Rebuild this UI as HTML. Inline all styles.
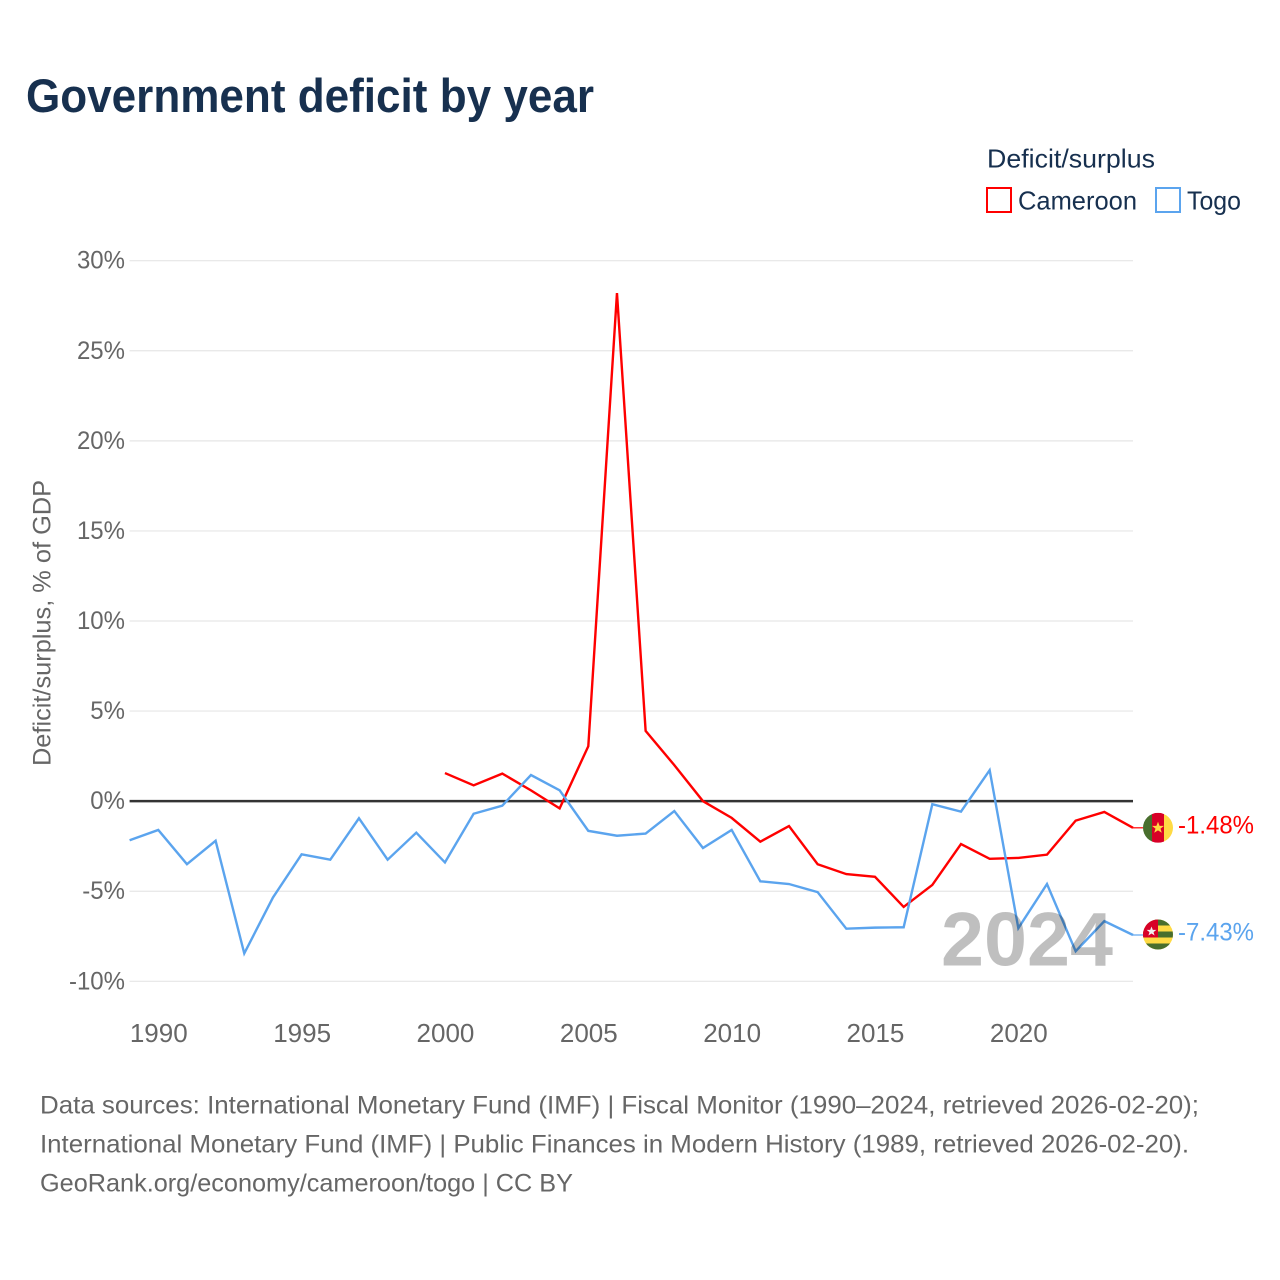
<!DOCTYPE html>
<html lang="en">
<head>
<meta charset="utf-8">
<title>Government deficit by year</title>
<style>
html,body{margin:0;padding:0;background:#fff;width:1280px;height:1280px;overflow:hidden}
svg{display:block;font-family:"Liberation Sans",sans-serif}
</style>
</head>
<body>
<svg id="chart" width="1280" height="1280" viewBox="0 0 1280 1280" xmlns="http://www.w3.org/2000/svg">
  <defs>
    <clipPath id="flag-clip"><circle cx="0" cy="0" r="15"/></clipPath>
  </defs>
  <rect width="1280" height="1280" fill="#fff"/>
  <text x="26" y="112" font-size="47" font-weight="700" fill="#17304f" textLength="568" lengthAdjust="spacingAndGlyphs">Government deficit by year</text>

  <g>
    <text x="987" y="167.5" font-size="26" fill="#17304f" textLength="168" lengthAdjust="spacingAndGlyphs">Deficit/surplus</text>
    <rect x="987" y="188" width="24" height="24" fill="none" stroke="#ff0000" stroke-width="2"/>
    <text x="1018" y="209.5" font-size="26" fill="#17304f" textLength="119" lengthAdjust="spacingAndGlyphs">Cameroon</text>
    <rect x="1156" y="188" width="24" height="24" fill="none" stroke="#5ba4ee" stroke-width="2"/>
    <text x="1187" y="209.5" font-size="26" fill="#17304f" textLength="54" lengthAdjust="spacingAndGlyphs">Togo</text>
  </g>

  <text transform="translate(50.5,766) rotate(-90)" x="0" y="0" font-size="25" fill="#666" textLength="286" lengthAdjust="spacingAndGlyphs">Deficit/surplus, % of GDP</text>

  <g id="grid"></g>
  <g id="y-ticks"></g>
  <g id="x-ticks"></g>
  <g id="series"></g>

  <g id="flag-cameroon">
    <g clip-path="url(#flag-clip)">
      <rect x="-15" y="-15" width="9" height="30" fill="#496e2d"/>
      <rect x="-6" y="-15" width="12" height="30" fill="#d80027"/>
      <rect x="6" y="-15" width="9" height="30" fill="#ffda44"/>
      <polygon points="0,-6 1.6,-1.9 6,-1.9 2.5,0.8 3.8,5 0,2.6 -3.8,5 -2.5,0.8 -6,-1.9 -1.6,-1.9" fill="#ffda44"/>
    </g>
  </g>
  <g id="flag-togo">
    <g clip-path="url(#flag-clip)">
      <rect x="-15" y="-15" width="30" height="30" fill="#ffda44"/>
      <rect x="-15" y="-15" width="30" height="6" fill="#496e2d"/>
      <rect x="-15" y="-3" width="30" height="6" fill="#496e2d"/>
      <rect x="-15" y="9" width="30" height="6" fill="#496e2d"/>
      <rect x="-15" y="-15" width="15" height="18" fill="#d80027"/>
      <polygon points="-6.5,-8 -5.2,-4.6 -1.6,-4.6 -4.5,-2.4 -3.4,1 -6.5,-1 -9.6,1 -8.5,-2.4 -11.4,-4.6 -7.8,-4.6" fill="#f0f0f0"/>
    </g>
  </g>
  <text id="value-cameroon" x="1178" font-size="25" fill="#ff0000" textLength="76" lengthAdjust="spacingAndGlyphs"></text>
  <text id="value-togo" x="1178" font-size="25" fill="#5ba4ee" textLength="76" lengthAdjust="spacingAndGlyphs"></text>

  <text x="941" y="965.5" font-size="76" font-weight="700" fill="#000" fill-opacity="0.25" textLength="172" lengthAdjust="spacingAndGlyphs">2024</text>

  <g font-size="25" fill="#666">
    <text x="40" y="1113.5" textLength="1159" lengthAdjust="spacingAndGlyphs">Data sources: International Monetary Fund (IMF) | Fiscal Monitor (1990–2024, retrieved 2026-02-20);</text>
    <text x="40" y="1152.5" textLength="1149" lengthAdjust="spacingAndGlyphs">International Monetary Fund (IMF) | Public Finances in Modern History (1989, retrieved 2026-02-20).</text>
    <text x="40" y="1191.5" textLength="533" lengthAdjust="spacingAndGlyphs">GeoRank.org/economy/cameroon/togo | CC BY</text>
  </g>
</svg>
<script>
const years = [1989,1990,1991,1992,1993,1994,1995,1996,1997,1998,1999,2000,2001,2002,2003,2004,2005,2006,2007,2008,2009,2010,2011,2012,2013,2014,2015,2016,2017,2018,2019,2020,2021,2022,2023,2024];
const togoValues = [-2.17,-1.6,-3.5,-2.2,-8.45,-5.35,-2.95,-3.25,-0.95,-3.25,-1.75,-3.4,-0.7,-0.25,1.45,0.6,-1.65,-1.92,-1.8,-0.55,-2.6,-1.6,-4.45,-4.6,-5.05,-7.08,-7.02,-7.0,-0.17,-0.58,1.72,-7.05,-4.6,-8.33,-6.66,-7.43];
const cameroonValues = [null,null,null,null,null,null,null,null,null,null,null,1.56,0.88,1.53,0.6,-0.4,3.05,28.2,3.9,2.0,0,-0.93,-2.25,-1.38,-3.5,-4.05,-4.2,-5.87,-4.65,-2.38,-3.2,-3.15,-2.97,-1.08,-0.6,-1.48];
const yTickValues = [-10,-5,0,5,10,15,20,25,30];
const xTickYears = [1990,1995,2000,2005,2010,2015,2020];

const SVG_NS = 'http://www.w3.org/2000/svg';
const plot = {left:129.6, right:1133, top:260.7, bottom:981.3, yMin:-10, yMax:30};
function xScale(year){
  return plot.left + (year - years[0]) / (years[years.length-1] - years[0]) * (plot.right - plot.left);
}
function yScale(v){
  return plot.bottom - (v - plot.yMin) / (plot.yMax - plot.yMin) * (plot.bottom - plot.top);
}
function make(tag, attrs, parent){
  const n = document.createElementNS(SVG_NS, tag);
  for (const k in attrs) n.setAttribute(k, attrs[k]);
  parent.appendChild(n);
  return n;
}
const gridG = document.getElementById('grid');
const yG = document.getElementById('y-ticks');
const xG = document.getElementById('x-ticks');
const seriesG = document.getElementById('series');

yTickValues.forEach(function(v){
  if (v !== 0) {
    const line = make('line', {x1:plot.left, x2:plot.right, y1:yScale(v), y2:yScale(v), stroke:'#e6e6e6', 'stroke-width':1.2}, gridG);
    
    
  }
  const label = make('text', {x:125, y:yScale(v)+8, 'font-size':25, fill:'#666', 'text-anchor':'end'}, yG);
  
  
  label.textContent = v + '%';
  label.setAttribute('textLength', label.getComputedTextLength() * 0.96);
  label.setAttribute('lengthAdjust', 'spacingAndGlyphs');
});

xTickYears.forEach(function(y){
  const label = make('text', {x:xScale(y)+0.5, y:1042, 'font-size':26, fill:'#666', 'text-anchor':'middle'}, xG);
  
  
  label.textContent = y;
});

const zeroLine = make('line', {x1:plot.left, x2:plot.right, y1:yScale(0), y2:yScale(0), stroke:'#333', 'stroke-width':2.5}, gridG);



function linePath(values){
  let d = '';
  values.forEach(function(v, i){
    if (v === null) return;
    d += (d ? 'L' : 'M') + xScale(years[i]).toFixed(2) + ' ' + yScale(v).toFixed(2);
  });
  return d;
}

const cameroonLine = make('path', {d:linePath(cameroonValues), fill:'none', stroke:'#ff0000', 'stroke-width':2.4, 'stroke-linejoin':'miter'}, seriesG);



const togoLine = make('path', {d:linePath(togoValues), fill:'none', stroke:'#5ba4ee', 'stroke-width':2.4, 'stroke-linejoin':'miter'}, seriesG);



const lastCameroon = cameroonValues[cameroonValues.length-1];
const lastTogo = togoValues[togoValues.length-1];

const stubCameroon = make('line', {x1:plot.right, x2:plot.right+10, y1:yScale(lastCameroon), y2:yScale(lastCameroon), stroke:'#ff0000', 'stroke-width':1.2}, seriesG);



const stubTogo = make('line', {x1:plot.right, x2:plot.right+10, y1:yScale(lastTogo), y2:yScale(lastTogo), stroke:'#5ba4ee', 'stroke-width':1.2}, seriesG);



document.getElementById('flag-cameroon').setAttribute('transform', 'translate(1158,' + yScale(lastCameroon) + ')');
document.getElementById('flag-togo').setAttribute('transform', 'translate(1158,' + (yScale(lastTogo) - 0.5) + ')');

const valueCameroon = document.getElementById('value-cameroon');
valueCameroon.setAttribute('y', yScale(lastCameroon) + 5.5);
valueCameroon.textContent = lastCameroon.toFixed(2) + '%';

const valueTogo = document.getElementById('value-togo');
valueTogo.setAttribute('y', yScale(lastTogo) + 5.5);
valueTogo.textContent = lastTogo.toFixed(2) + '%';
</script>
</body>
</html>
